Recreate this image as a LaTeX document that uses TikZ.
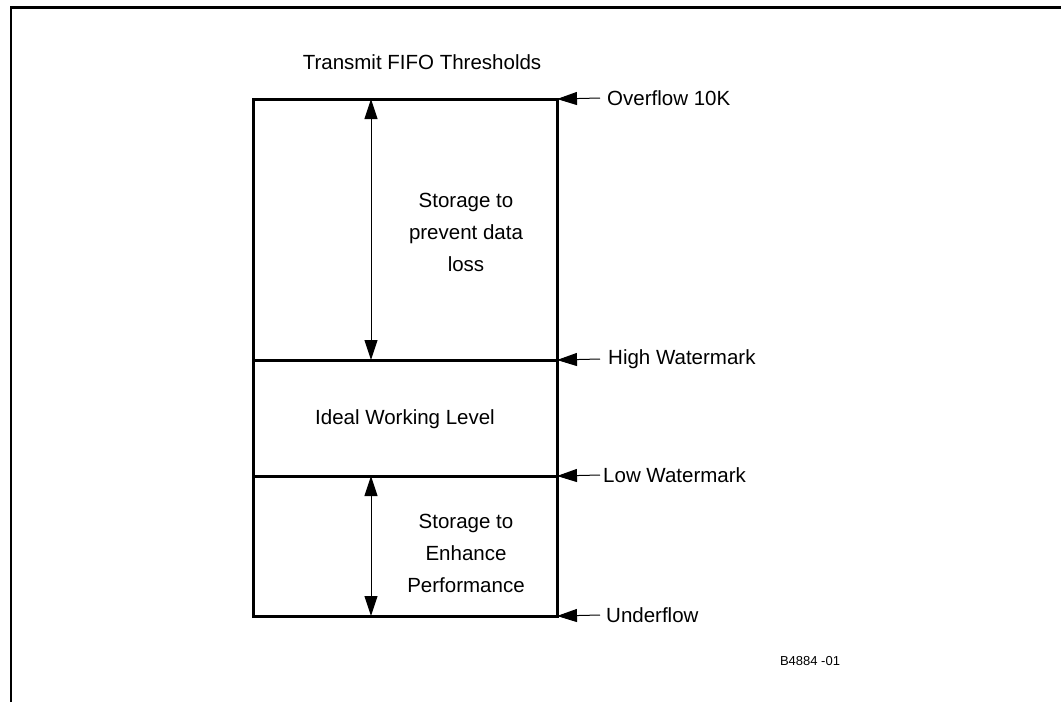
\documentclass[tikz,border=0pt]{standalone}
\usepackage{fontspec}
\setmainfont{Liberation Sans}
\usetikzlibrary{arrows.meta}
\tikzset{
  frame/.style={line width=2.5pt},
  fifo/.style={line width=3pt},
  tip/.style={-{Triangle[length=20pt,width=13pt]}, line width=1pt},
  span/.style={{Triangle[length=20pt,width=13pt]}-{Triangle[length=20pt,width=13pt]}, line width=1pt},
  lbl/.style={font=\fontsize{20.5}{32}\selectfont, inner sep=0pt, align=center},
  side/.style={font=\fontsize{20.5}{24}\selectfont, inner sep=0pt, anchor=west},
}
\begin{document}
\begin{tikzpicture}[x=1pt,y=-1pt]
\useasboundingbox (0,0) rectangle (1061,702);
% page frame (open at right and bottom)
\draw[frame] (11,702) -- (11,7.5) -- (1061,7.5);

% FIFO levels
\coordinate (tl) at (253,99);
\coordinate (tr) at (557,99);
\coordinate (hl) at (253,360);
\coordinate (hr) at (557,360);
\coordinate (ll) at (253,476);
\coordinate (lr) at (557,476);
\coordinate (bl) at (253,616);
\coordinate (br) at (557,616);

\draw[fifo] (tl) -- (tr) -- (br) -- (bl) -- cycle;
\draw[fifo] (hl) -- (hr);
\draw[fifo] (ll) -- (lr);

\node[lbl] (title) at (422,62) {Transmit FIFO Thresholds};

% spans inside the FIFO
\coordinate (s1a) at (371,99);
\coordinate (s1b) at (371,360);
\coordinate (s2a) at (371,476);
\coordinate (s2b) at (371,616);
\draw[span] (s1a) -- (s1b);
\draw[span] (s2a) -- (s2b);

\node[lbl] (loss) at (466,232) {Storage to\\prevent data\\loss};
\node[lbl] (ideal) at (405,419) {Ideal Working Level};
\node[lbl] (perf) at (466,553) {Storage to\\Enhance\\Performance};

% threshold markers
\node[side] (ovf) at (607,98) {Overflow 10K};
\node[side] (high) at (608,359) {High Watermark};
\node[side] (low) at (603,475) {Low Watermark};
\node[side] (udf) at (606,615) {Underflow};

\draw[tip] ([xshift=-7pt]ovf.west) -- (tr);
\draw[tip] ([xshift=-8pt]high.west) -- (hr);
\draw[tip] ([xshift=-3pt]low.west) -- (lr);
\draw[tip] ([xshift=-6pt]udf.west) -- (br);

\node[font=\fontsize{13}{15}\selectfont, inner sep=0pt] (code) at (810,661) {B4884 -01};
\end{tikzpicture}
\end{document}
